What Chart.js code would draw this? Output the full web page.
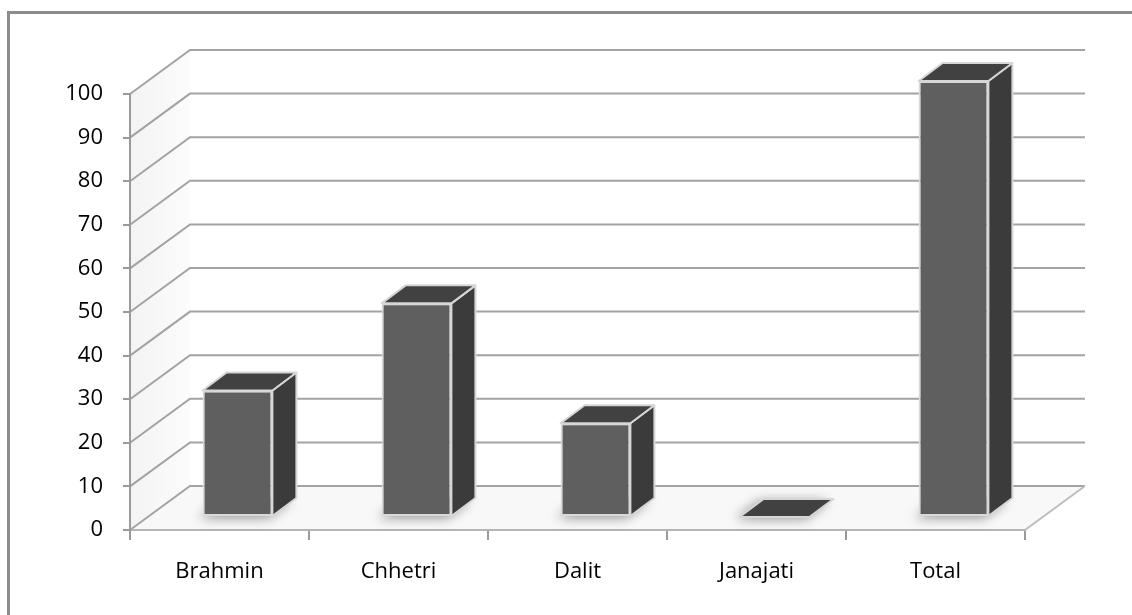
<!DOCTYPE html>
<html>
<head>
<meta charset="utf-8">
<script src="https://cdn.jsdelivr.net/npm/chart.js@4/dist/chart.umd.min.js"></script>
<style>
html, body { margin: 0; padding: 0; background: #fff; overflow: hidden; }
#frame { position: absolute; left: 7px; top: 11px; width: 1140px; height: 620px; border: 3px solid #8c8c8c; }
#wrap { position: absolute; left: 0; top: 0; width: 1132px; height: 615px; }
</style>
</head>
<body>
<div id="frame"></div>
<div id="wrap"><canvas id="chart" width="1132" height="615"></canvas></div>
<script>
const categories = ['Brahmin', 'Chhetri', 'Dalit', 'Janajati', 'Total'];
const values = [29, 49, 21.5, 0, 100];
const yMin = 0, yMax = 100, yStep = 10;

// fake 3d offsets
const wall = { dx: 60, dy: 44 };
const barShift = { dx: 18, dy: 13 };
const barDepth = { dx: 24, dy: 18 };

const gridColor = '#a3a3a3';

const threeD = {
  id: 'threeD',
  beforeDraw(chart) {
    const { ctx, chartArea: a, scales: { y } } = chart;
    ctx.save();
    // left wall
    const g = ctx.createLinearGradient(a.left, 0, a.left + wall.dx, 0);
    g.addColorStop(0, '#f3f3f3');
    g.addColorStop(1, '#fcfcfc');
    ctx.fillStyle = g;
    ctx.beginPath();
    ctx.moveTo(a.left, a.bottom);
    ctx.lineTo(a.left, a.top);
    ctx.lineTo(a.left + wall.dx, a.top - wall.dy);
    ctx.lineTo(a.left + wall.dx, a.bottom - wall.dy);
    ctx.closePath();
    ctx.fill();
    // floor
    ctx.fillStyle = '#f8f8f8';
    ctx.beginPath();
    ctx.moveTo(a.left, a.bottom);
    ctx.lineTo(a.right, a.bottom);
    ctx.lineTo(a.right + wall.dx, a.bottom - wall.dy);
    ctx.lineTo(a.left + wall.dx, a.bottom - wall.dy);
    ctx.closePath();
    ctx.fill();

    ctx.strokeStyle = gridColor;
    ctx.lineWidth = 2;
    for (let v = yMin; v <= yMax; v += yStep) {
      const py = y.getPixelForValue(v);
      ctx.beginPath();
      ctx.moveTo(a.left, py);
      ctx.lineTo(a.left + wall.dx, py - wall.dy);
      ctx.lineTo(a.right + wall.dx, py - wall.dy);
      ctx.stroke();
    }
    ctx.strokeStyle = '#bdbdbd';
    ctx.beginPath();
    ctx.moveTo(a.right, a.bottom);
    ctx.lineTo(a.right + wall.dx, a.bottom - wall.dy);
    ctx.stroke();
    ctx.restore();
  },
  beforeDatasetsDraw(chart) {
    const ctx = chart.ctx;
    ctx.save();
    ctx.translate(barShift.dx, -barShift.dy);
    // soft shadow under each bar
    chart.getDatasetMeta(0).data.forEach(bar => {
      const { x, base, width } = bar.getProps(['x', 'base', 'width'], true);
      const x1 = x - width / 2, x2 = x + width / 2;
      ctx.save();
      ctx.shadowColor = 'rgba(0,0,0,0.4)';
      ctx.shadowBlur = 12;
      ctx.shadowOffsetX = -4;
      ctx.shadowOffsetY = 2;
      ctx.fillStyle = '#a8a8a8';
      ctx.beginPath();
      ctx.moveTo(x1, base);
      ctx.lineTo(x2, base);
      ctx.lineTo(x2 + barDepth.dx, base - barDepth.dy);
      ctx.lineTo(x1 + barDepth.dx, base - barDepth.dy);
      ctx.closePath();
      ctx.fill();
      ctx.restore();
    });
  },
  afterDatasetsDraw(chart) {
    const ctx = chart.ctx;
    chart.getDatasetMeta(0).data.forEach(bar => {
      const { x, y, base, width } = bar.getProps(['x', 'y', 'base', 'width'], true);
      const x1 = x - width / 2, x2 = x + width / 2;
      ctx.lineWidth = 2;
      ctx.strokeStyle = '#d6d6d6';
      ctx.lineJoin = 'round';
      // side face
      ctx.fillStyle = '#3b3b3b';
      ctx.beginPath();
      ctx.moveTo(x2, y);
      ctx.lineTo(x2 + barDepth.dx, y - barDepth.dy);
      ctx.lineTo(x2 + barDepth.dx, base - barDepth.dy);
      ctx.lineTo(x2, base);
      ctx.closePath();
      ctx.fill();
      ctx.stroke();
      // top face
      ctx.fillStyle = '#414141';
      ctx.beginPath();
      ctx.moveTo(x1, y);
      ctx.lineTo(x2, y);
      ctx.lineTo(x2 + barDepth.dx, y - barDepth.dy);
      ctx.lineTo(x1 + barDepth.dx, y - barDepth.dy);
      ctx.closePath();
      ctx.fill();
      ctx.stroke();
    });
    ctx.restore();
  }
};

const labelFont = { family: 'Open Sans', size: 22 };

new Chart(document.getElementById('chart'), {
  type: 'bar',
  data: {
    labels: categories,
    datasets: [{
      data: values,
      backgroundColor: '#5f5f5f',
      borderColor: '#d9d9d9',
      borderWidth: 2,
      borderSkipped: false,
      barPercentage: 0.39,
      categoryPercentage: 1,
      clip: false
    }]
  },
  options: {
    responsive: false,
    animation: false,
    events: [],
    layout: { padding: { left: 50, right: 107, top: 94, bottom: 15 } },
    plugins: { legend: { display: false }, tooltip: { enabled: false } },
    scales: {
      x: {
        afterFit: s => { s.height = 70; },
        grid: { offset: true, drawOnChartArea: false, tickLength: 10, color: '#9a9a9a', lineWidth: 2 },
        border: { display: true, color: '#b5b5b5', width: 2 },
        ticks: { color: '#000', font: labelFont, padding: 19 }
      },
      y: {
        min: yMin,
        max: yMax,
        afterFit: s => { s.width = 80; },
        grid: { drawOnChartArea: false, tickLength: 7, color: '#9a9a9a', lineWidth: 2 },
        border: { display: true, color: '#9a9a9a', width: 2 },
        ticks: { stepSize: yStep, color: '#000', font: labelFont, padding: 20 }
      }
    }
  },
  plugins: [threeD]
});
</script>
</body>
</html>
